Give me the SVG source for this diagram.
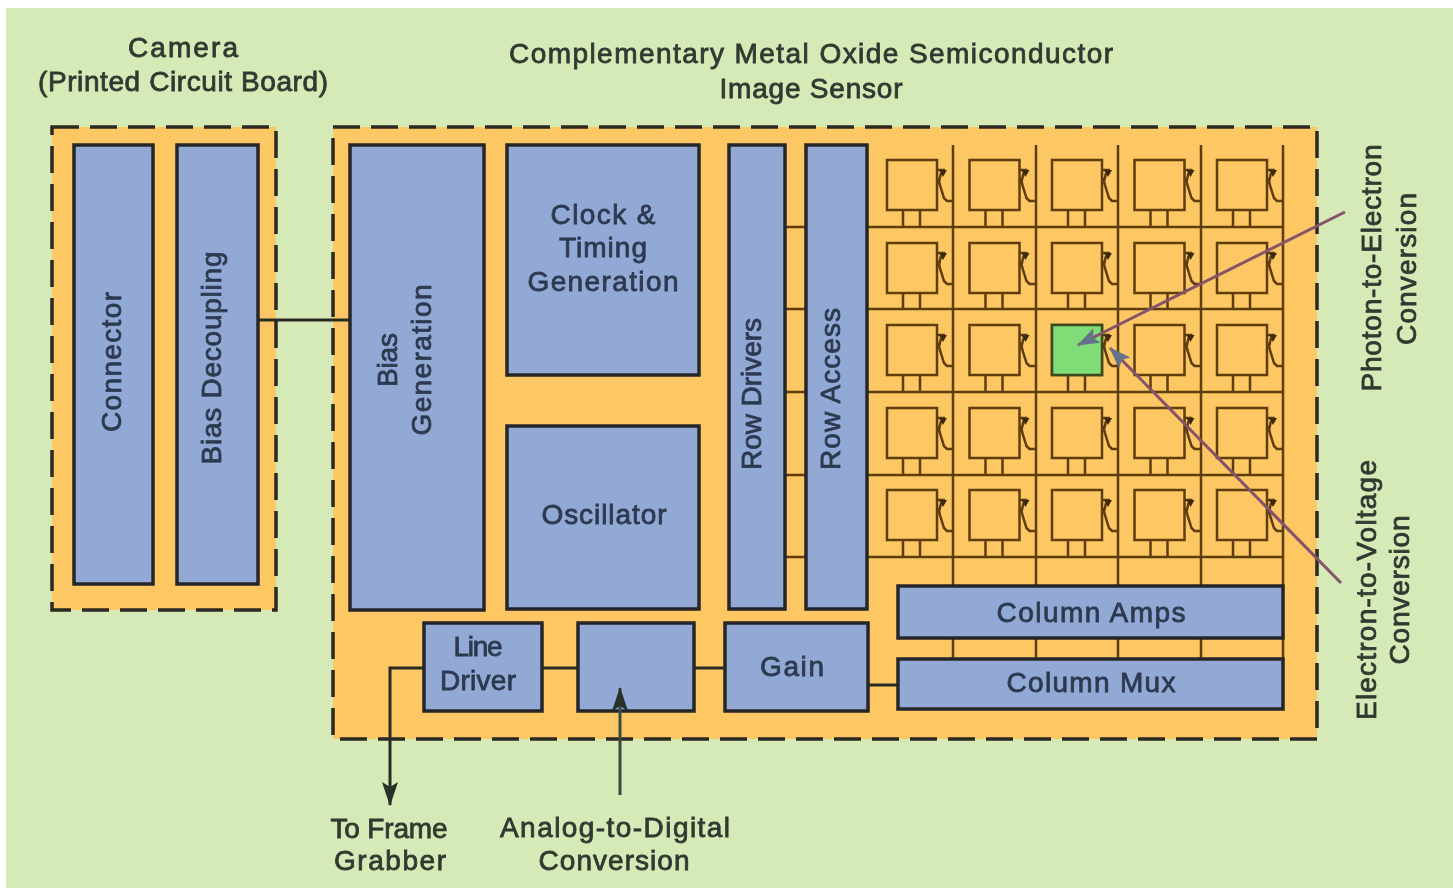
<svg xmlns="http://www.w3.org/2000/svg" width="1453" height="890" viewBox="0 0 1453 890">
<style>
.panel{fill:#fdc763;stroke:#2a2a20;stroke-width:3.5;stroke-dasharray:27 11}
.box{fill:#92a9d5;stroke:#25262a;stroke-width:3.5}
.t{font-family:"Liberation Sans",Arial,sans-serif;font-size:28px;fill:#2f3a30;text-anchor:middle;stroke:#2f3a30;stroke-width:.8}
.b{fill:#2d3a50;stroke:#2d3a50}
.w{stroke:#2b2b20;stroke-width:3;fill:none}
.g{stroke:#5e3d0c;stroke-width:2.5;fill:none}
.c{fill:none;stroke:#5e3d0c;stroke-width:2.5}
.p{stroke:#85526a;stroke-width:3;fill:none}
</style>
<defs>
<filter id="soft" x="0" y="0" width="100%" height="100%"><feGaussianBlur stdDeviation="0.6"/></filter>
<marker id="ah" viewBox="0 0 24 16" refX="23" refY="8" markerWidth="24" markerHeight="16" markerUnits="userSpaceOnUse" orient="auto"><path d="M0 0L24 8L0 16L5 8Z" fill="#25302a"/></marker>
<marker id="pa" viewBox="0 0 22 16" refX="21" refY="8" markerWidth="22" markerHeight="16" markerUnits="userSpaceOnUse" orient="auto"><path d="M0 0L22 8L0 16L4 8Z" fill="#66718a"/></marker>
<g id="cell">
<path class="c" d="M16 50V67M33 50V67M50 10H58M54 13L52 22L57 38L60 41H66M50 18L53 24"/>
<path d="M52 10H60L56 17Z" fill="#3d2a0a"/>
<rect class="c" width="50" height="50" style="fill:#fdc763"/>
</g>
</defs>
<rect width="1453" height="890" fill="#fff"/>
<g filter="url(#soft)">
<rect x="6" y="8" width="1447" height="880" fill="#d5eab7"/>

<g id="camera"><rect class="panel" x="52" y="127" width="224" height="483"/></g>
<g id="sensor"><rect class="panel" x="333" y="127" width="984" height="612"/></g>

<g id="pixel-grid">
<path class="g" d="M953 145V586M1036 145V586M1118 145V586M1201 145V586M1283 145V586M868 227H1283M868 309H1283M868 392H1283M868 475H1283M868 557H1283M785 227H806M785 309H806M785 392H806M785 475H806M785 557H806M953 638V659M1036 638V659M1118 638V659M1201 638V659M1283 638V659"/>
<use href="#cell" x="887" y="160"/><use href="#cell" x="969.5" y="160"/><use href="#cell" x="1052" y="160"/><use href="#cell" x="1134.5" y="160"/><use href="#cell" x="1217" y="160"/>
<use href="#cell" x="887" y="243"/><use href="#cell" x="969.5" y="243"/><use href="#cell" x="1052" y="243"/><use href="#cell" x="1134.5" y="243"/><use href="#cell" x="1217" y="243"/>
<use href="#cell" x="887" y="325"/><use href="#cell" x="969.5" y="325"/><use href="#cell" x="1052" y="325"/><use href="#cell" x="1134.5" y="325"/><use href="#cell" x="1217" y="325"/>
<use href="#cell" x="887" y="408"/><use href="#cell" x="969.5" y="408"/><use href="#cell" x="1052" y="408"/><use href="#cell" x="1134.5" y="408"/><use href="#cell" x="1217" y="408"/>
<use href="#cell" x="887" y="490"/><use href="#cell" x="969.5" y="490"/><use href="#cell" x="1052" y="490"/><use href="#cell" x="1134.5" y="490"/><use href="#cell" x="1217" y="490"/>
<rect x="1052" y="325" width="50" height="50" fill="#7fdc77" stroke="#3d4a1a" stroke-width="2.5"/>
</g>

<g id="connector"><rect class="box" x="74" y="145" width="79" height="439"/><text class="t b" transform="translate(121 362) rotate(-90)" textLength="140">Connector</text></g>
<g id="bias-decoupling"><rect class="box" x="177" y="145" width="81" height="439"/><text class="t b" transform="translate(221 358) rotate(-90)" textLength="213">Bias Decoupling</text></g>
<g id="bias-generation"><rect class="box" x="350" y="145" width="134" height="465"/><text class="t b" transform="translate(397 360) rotate(-90)" textLength="54">Bias</text><text class="t b" transform="translate(431 360) rotate(-90)" textLength="151">Generation</text></g>
<g id="clock"><rect class="box" x="507" y="145" width="192" height="230"/><text class="t b" x="603" y="224" textLength="105">Clock &amp;</text><text class="t b" x="603" y="257" textLength="88">Timing</text><text class="t b" x="603" y="291" textLength="151">Generation</text></g>
<g id="oscillator"><rect class="box" x="507" y="426" width="192" height="183"/><text class="t b" x="604" y="524" textLength="125">Oscillator</text></g>
<g id="row-drivers"><rect class="box" x="729" y="145" width="56" height="464"/><text class="t b" transform="translate(761 394) rotate(-90)" textLength="152">Row Drivers</text></g>
<g id="row-access"><rect class="box" x="806" y="145" width="61" height="464"/><text class="t b" transform="translate(840 389) rotate(-90)" textLength="162">Row Access</text></g>
<g id="column-amps"><rect class="box" x="898" y="586" width="385" height="52"/><text class="t b" x="1091" y="622" textLength="189">Column Amps</text></g>
<g id="column-mux"><rect class="box" x="898" y="659" width="385" height="50"/><text class="t b" x="1091" y="692" textLength="169">Column Mux</text></g>
<g id="line-driver"><rect class="box" x="424" y="623" width="118" height="88"/><text class="t b" x="478" y="656" textLength="49">Line</text><text class="t b" x="478" y="690" textLength="76">Driver</text></g>
<g id="adc"><rect class="box" x="578" y="623" width="116" height="88"/></g>
<g id="gain"><rect class="box" x="725" y="623" width="143" height="88"/><text class="t b" x="792" y="676" textLength="64">Gain</text></g>

<g id="connectors">
<path class="w" d="M258 320H350"/>
<path class="w" d="M542 668H578M694 668H725M868 685H898"/>
<path class="w" d="M424 668H390V805" marker-end="url(#ah)"/>
<path class="w" d="M620 795V688" marker-end="url(#ah)" style="stroke:#3a4a42"/>
<path class="p" d="M1345 212L1078 345" marker-end="url(#pa)"/>
<path class="p" d="M1341 583L1110 348" marker-end="url(#pa)"/>
</g>

<g id="labels">
<text class="t" x="183" y="57" textLength="110">Camera</text>
<text class="t" x="183" y="91" textLength="290">(Printed Circuit Board)</text>
<text class="t" x="811" y="63" textLength="604">Complementary Metal Oxide Semiconductor</text>
<text class="t" x="811" y="98" textLength="183">Image Sensor</text>
<text class="t" x="389" y="838" textLength="117">To Frame</text>
<text class="t" x="390" y="870" textLength="112">Grabber</text>
<text class="t" x="615" y="837" textLength="230">Analog-to-Digital</text>
<text class="t" x="614" y="870" textLength="151">Conversion</text>
<text class="t" transform="translate(1381 268) rotate(-90)" textLength="247">Photon-to-Electron</text>
<text class="t" transform="translate(1416 269) rotate(-90)" textLength="152">Conversion</text>
<text class="t" transform="translate(1376 590) rotate(-90)" textLength="260">Electron-to-Voltage</text>
<text class="t" transform="translate(1409 590) rotate(-90)" textLength="149">Conversion</text>
</g>
</g>
</svg>
